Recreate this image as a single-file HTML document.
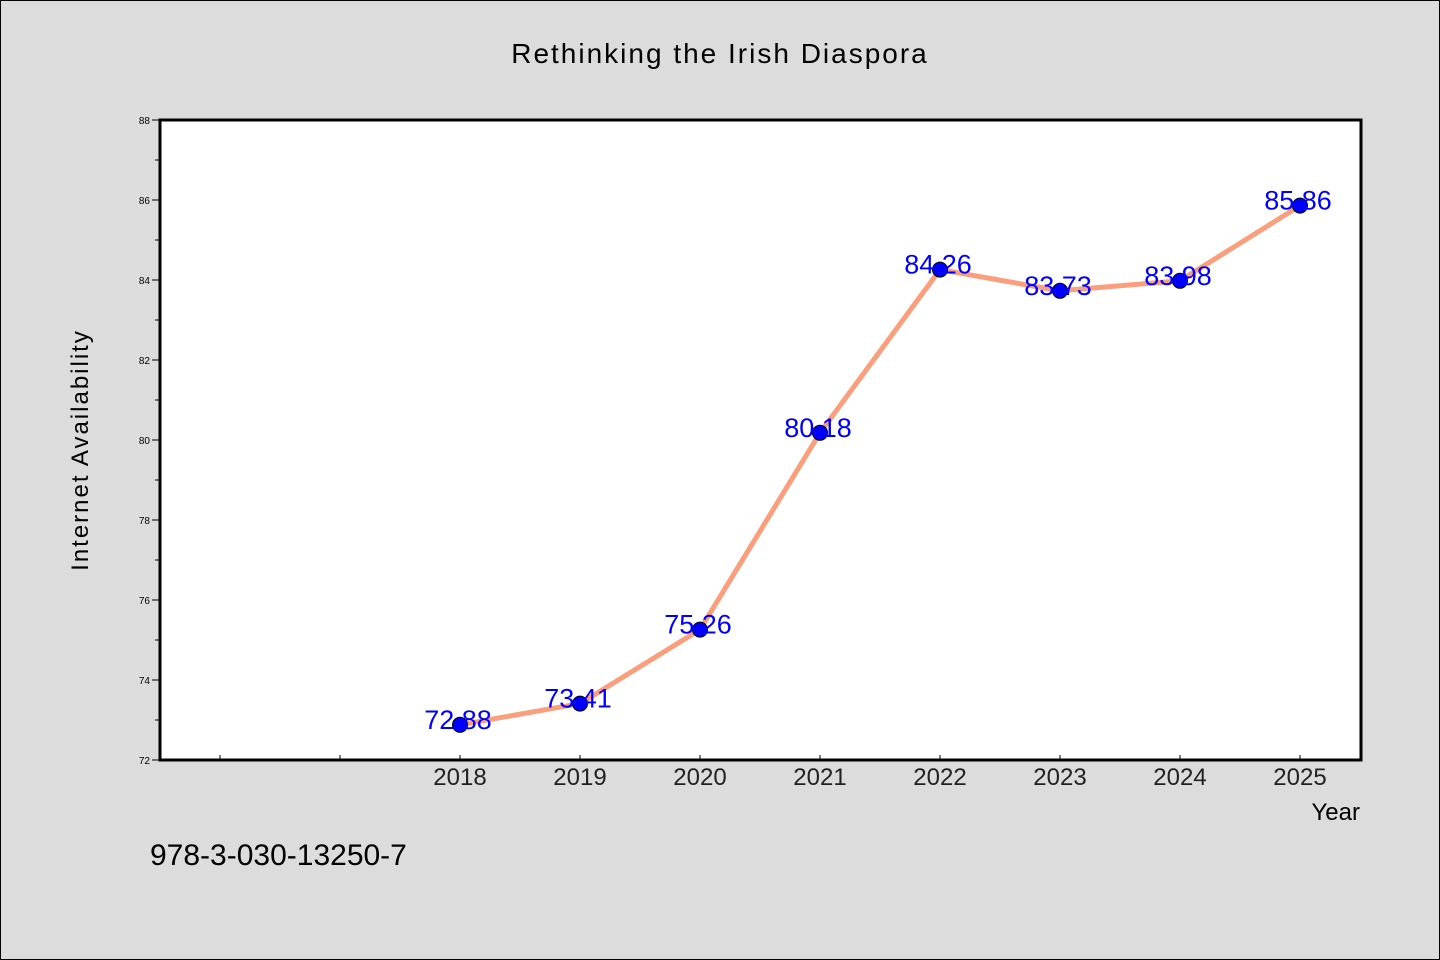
<!DOCTYPE html>
<html><head><meta charset="utf-8"><style>
body{margin:0;background:#dcdcdc}
svg{display:block}
text{font-family:"WenQuanYi Zen Hei","Liberation Sans",sans-serif}
</style></head><body>
<svg width="1440" height="960">
<rect x="0.5" y="0.5" width="1439" height="959" fill="#dcdcdc" stroke="#000"/>
<text x="720" y="63" font-size="28" text-anchor="middle" letter-spacing="2">Rethinking the Irish Diaspora</text>
<rect x="160" y="120" width="1201" height="640" fill="#fff"/>
<g id="axes"></g>
<g id="marks"></g>
<rect x="160" y="120" width="1201" height="640" fill="none" stroke="#000" stroke-width="3"/>
<text x="88" y="450" font-size="24" text-anchor="middle" letter-spacing="2" transform="rotate(-90 88 450)">Internet Availability</text>
<text x="1360" y="820" font-size="24" text-anchor="end">Year</text>
<text x="150" y="865" font-size="30">978-3-030-13250-7</text>
</svg>
<script>
const years=[2018,2019,2020,2021,2022,2023,2024,2025];
const values=[72.88,73.41,75.26,80.18,84.26,83.73,83.98,85.86];
const labels=["72.88","73.41","75.26","80.18","84.26","83.73","83.98","85.86"];
const yTicks=[72,74,76,78,80,82,84,86,88];
const NS="http://www.w3.org/2000/svg";
const xs=y=>160+(y-2015.5)*120;
const ys=v=>760-(v-72)*40;
function mk(t,a,p){const e=document.createElementNS(NS,t);for(const k in a)e.setAttribute(k,a[k]);p.appendChild(e);return e;}
const ax=document.getElementById('axes'),mg=document.getElementById('marks');
for(let v=72;v<=88;v+=1){
 const l=mk('line',{x1:v%2?155:152,x2:160,y1:ys(v),y2:ys(v),stroke:'#000'},ax);
 
 
}
yTicks.forEach(v=>{const t=mk('text',{x:150,y:ys(v)+4,'font-size':10,'text-anchor':'end'},ax);t.textContent=v;
 
 });
for(let y=2016;y<=2025;y++){
 const l=mk('line',{x1:xs(y),x2:xs(y),y1:755,y2:760,stroke:'#000'},ax);
 
 
}
years.forEach(y=>{const t=mk('text',{x:xs(y),y:785,'font-size':24,'text-anchor':'middle',fill:'#222'},ax);t.textContent=y;
 
 });
const pl=mk('polyline',{points:years.map((y,i)=>xs(y)+','+ys(values[i])).join(' '),fill:'none',stroke:'#fa9e7c','stroke-width':5,'stroke-linejoin':'round'},mg);


years.forEach((y,i)=>{
 const c=mk('circle',{cx:xs(y),cy:ys(values[i]),r:7.5,fill:'#0000ff',stroke:'#000','stroke-width':1},mg);
 
 
 const t=mk('text',{x:xs(y)-2,y:ys(values[i])+4,'font-size':27,'text-anchor':'middle',fill:'#0000ff'},mg);
 t.textContent=labels[i];
 
 
});
</script>
</body></html>
